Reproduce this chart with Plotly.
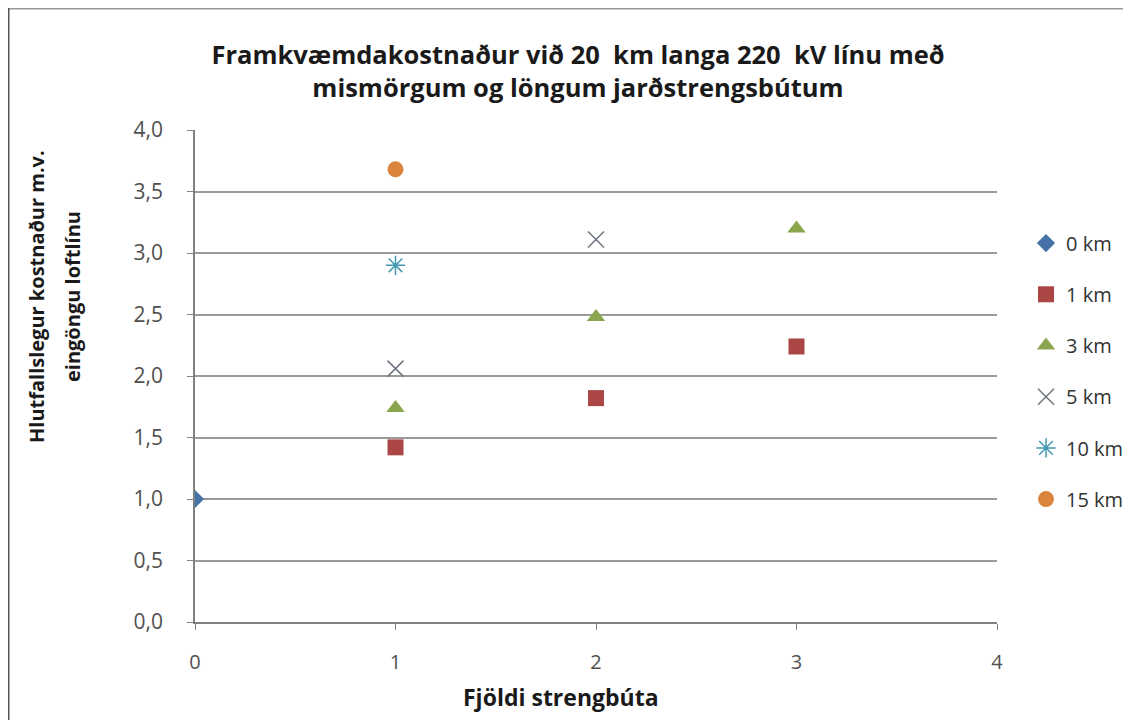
import plotly.graph_objects as go

series_names = ["0 km", "1 km", "3 km", "5 km", "10 km", "15 km"]
x_vals = [[0], [1, 2, 3], [1, 2, 3], [1, 2], [1], [1]]
y_vals = [[1.0], [1.42, 1.82, 2.24], [1.74, 2.48, 3.2], [2.06, 3.11], [2.9], [3.68]]
symbols = ["diamond", "square", "triangle-up", "x-thin-open", "asterisk-open", "circle"]
colors = ["#4572A7", "#AA4643", "#89A54E", "#6E7480", "#4198AF", "#DB843D"]
sizes = [14, 16, 16, 16, 16, 16]

y_ticks = [0, 0.5, 1, 1.5, 2, 2.5, 3, 3.5, 4]
y_tick_text = ["0,0", "0,5", "1,0", "1,5", "2,0", "2,5", "3,0", "3,5", "4,0"]
x_ticks = [0, 1, 2, 3, 4]

fig = go.Figure()
for name, xs, ys, sym, col, sz in zip(series_names, x_vals, y_vals, symbols, colors, sizes):
    line_w = 1.5 if "open" in sym else 0
    fig.add_trace(go.Scatter(
        x=xs, y=ys, mode="markers", name=name, legendgroup=name,
        marker=dict(symbol=sym, color=col, size=sz, line=dict(color=col, width=line_w)),
    ))

font_family = "Open Sans, Noto Sans, sans-serif"
W, H = 1123, 712
L, T, PW, PH = 187, 122, 802, 492
fig.update_layout(
    width=W, height=H,
    paper_bgcolor="white", plot_bgcolor="white",
    margin=dict(l=L, r=W - L - PW, t=T, b=H - T - PH, autoexpand=False),
    title=dict(
        text="<b>Framkvæmdakostnaður við 20  km langa 220  kV línu með<br>mismörgum og löngum jarðstrengsbútum</b>",
        x=570 / W, xanchor="center", y=1 - 56 / H, yanchor="top",
        font=dict(family=font_family, size=25.5, color="#1a1a1a"),
    ),
    xaxis=dict(
        range=[0, 4], tickvals=x_ticks, showgrid=False, zeroline=False,
        showline=True, linecolor="#808080", linewidth=1.5,
        ticks="outside", ticklen=6, tickcolor="#808080",
        ticklabelstandoff=15,
        tickfont=dict(family=font_family, size=20, color="#505050"),
    ),
    yaxis=dict(
        range=[0, 4], tickvals=y_ticks, ticktext=y_tick_text,
        showgrid=True, gridcolor="#9a9a9a", gridwidth=2, zeroline=False,
        showline=True, linecolor="#808080", linewidth=1.5,
        ticks="outside", ticklen=6, tickcolor="#808080",
        ticklabelstandoff=20,
        tickfont=dict(family=font_family, size=21, color="#505050"),
    ),
    legend=dict(
        x=(1018 - L) / PW, xanchor="left", y=0.51, yanchor="middle",
        font=dict(family=font_family, size=20, color="#333333"),
        tracegroupgap=22.2, itemsizing="trace",
        bgcolor="rgba(0,0,0,0)",
    ),
    annotations=[
        dict(text="<b>Hlutfallslegur kostnaður m.v.</b>", textangle=-90,
             xref="paper", yref="paper", x=(28 - L) / PW, y=(T + PH - 289) / PH,
             xanchor="center", yanchor="middle", showarrow=False,
             font=dict(family=font_family, size=20, color="#1a1a1a")),
        dict(text="<b>eingöngu loftlínu</b>", textangle=-90,
             xref="paper", yref="paper", x=(64 - L) / PW, y=(T + PH - 289) / PH,
             xanchor="center", yanchor="middle", showarrow=False,
             font=dict(family=font_family, size=20, color="#1a1a1a")),
        dict(text="<b>Fjöldi strengbúta</b>",
             xref="paper", yref="paper", x=(553 - L) / PW, y=(T + PH - 689) / PH,
             xanchor="center", yanchor="middle", showarrow=False,
             font=dict(family=font_family, size=23, color="#1a1a1a")),
    ],
    shapes=[
        dict(type="line", xref="paper", yref="paper",
             x0=(0.5 - L) / PW, x1=(W - L) / PW, y0=(T + PH - 0.5) / PH, y1=(T + PH - 0.5) / PH,
             line=dict(color="#999999", width=2)),
        dict(type="line", xref="paper", yref="paper",
             x0=(0.5 - L) / PW, x1=(0.5 - L) / PW, y0=(T + PH) / PH, y1=(T + PH - H) / PH,
             line=dict(color="#555555", width=2)),
    ],
)

fig.write_html("out.html")
